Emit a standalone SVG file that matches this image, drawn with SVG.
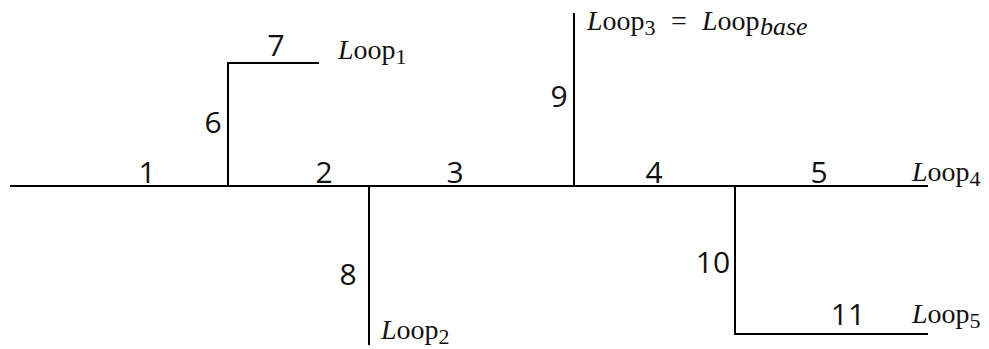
<svg xmlns="http://www.w3.org/2000/svg" width="989" height="349" viewBox="0 0 989 349">
<style>
.ln{stroke:#000;stroke-width:2;fill:none}
.num{font-family:"Open Sans","Noto Sans",sans-serif;font-size:30px;fill:#111;text-anchor:middle}
.loop{font-family:"Liberation Serif","DejaVu Serif",serif;font-size:28px;fill:#111}
.it{font-style:italic}
.sub{font-size:22px}
.sub2{font-size:26px}
</style>
<rect width="989" height="349" fill="#fff"/>
<g id="connectors">
<line class="ln" x1="10" y1="186" x2="928" y2="186"/>
<polyline class="ln" points="228,186 228,63 319,63"/>
<line class="ln" x1="369" y1="186" x2="369" y2="345"/>
<line class="ln" x1="574" y1="13" x2="574" y2="186"/>
<polyline class="ln" points="735,186 735,334 928,334"/>
</g>
<g id="segment-labels">
<text class="num" x="147" y="183">1</text>
<text class="num" x="324" y="183">2</text>
<text class="num" x="455" y="183">3</text>
<text class="num" x="654" y="183">4</text>
<text class="num" x="819" y="183">5</text>
<text class="num" x="213" y="133">6</text>
<text class="num" x="276" y="56">7</text>
<text class="num" x="348" y="285">8</text>
<text class="num" x="559" y="107">9</text>
<text class="num" x="713" y="273">10</text>
<text class="num" x="848" y="325">11</text>
</g>
<g id="loop1"><text class="loop" x="338" y="59"><tspan class="it">L</tspan>oop<tspan class="sub" dy="5">1</tspan></text></g>
<g id="loop2"><text class="loop" x="381" y="339"><tspan class="it">L</tspan>oop<tspan class="sub" dy="5">2</tspan></text></g>
<g id="loop3"><text class="loop" x="587" y="30"><tspan class="it">L</tspan>oop<tspan class="sub" dy="5">3</tspan><tspan x="671" dy="-5">=</tspan><tspan class="it" x="702">L</tspan>oop<tspan class="sub2 it" dy="5" x="760">base</tspan></text></g>
<g id="loop4"><text class="loop" x="912" y="181"><tspan class="it">L</tspan>oop<tspan class="sub" dy="5">4</tspan></text></g>
<g id="loop5"><text class="loop" x="912" y="323"><tspan class="it">L</tspan>oop<tspan class="sub" dy="5">5</tspan></text></g>
</svg>
